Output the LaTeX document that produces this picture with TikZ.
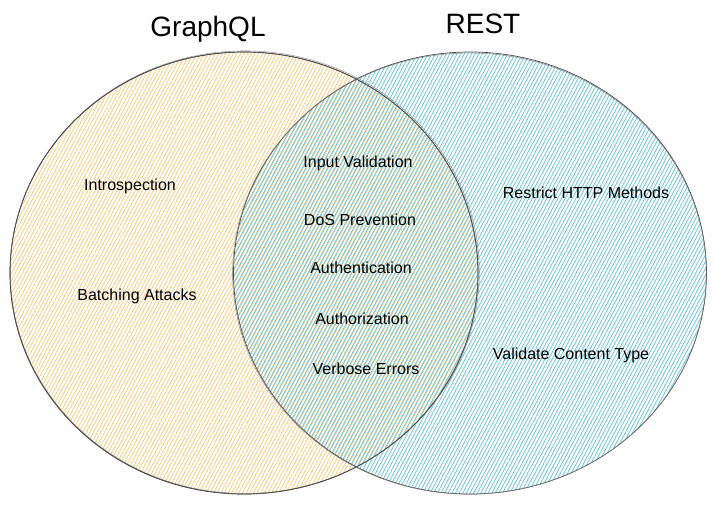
\documentclass[tikz,border=0pt]{standalone}
\usepackage{fontspec}
\setmainfont{Liberation Sans}
\usetikzlibrary{positioning,shapes.geometric,patterns.meta}
\definecolor{gqlyellow}{HTML}{F7C66B}
\definecolor{restcyan}{HTML}{5FC2D8}
\definecolor{rim}{HTML}{4A4A4A}

\begin{document}
\begin{tikzpicture}[
                    x=1pt, y=-1pt,
                    set/.style={ellipse, draw=rim, line width=0.7pt, inner sep=0pt},
                    title/.style={font=\fontsize{28}{32}\selectfont},
                    item/.style={font=\fontsize{16}{18}\selectfont}
                ]
                    \useasboundingbox (0,0) rectangle (714,506);

                    % Sets (hatched fills)
                    \node[set, minimum width=468pt, minimum height=442pt,
                          pattern={Lines[angle=62, distance=3.2pt, line width=0.85pt]},
                          pattern color=gqlyellow!85] (gql) at (244,273) {};
                    \node[set, minimum width=473pt, minimum height=442pt,
                          pattern={Lines[angle=62, distance=3.2pt, line width=0.85pt, yshift=1.4pt]},
                          pattern color=restcyan!90] (rest) at (470,273) {};
                    % sketchy second rims
                    \draw[rim!70, line width=0.4pt] (244.8,272.2) ellipse (234.5pt and 221.3pt);
                    \draw[rim!70, line width=0.4pt] (469.4,273.6) ellipse (236.8pt and 220.6pt);
                    \draw[rim, line width=0.7pt] (244,273) ellipse (234pt and 221pt);

                    % Titles
                    \node[title] (gqltitle) at (208,29) {GraphQL};
                    \node[title] (resttitle) at (483,24) {REST};

                    % GraphQL only
                    \node[item] (intro) at (130,186) {Introspection};
                    \node[item] (batch) at (137,296) {Batching Attacks};

                    % Shared
                    \node[item] (input) at (358,163) {Input Validation};
                    \node[item] (dos) at (360,220) {DoS Prevention};
                    \node[item] (authn) at (361,268) {Authentication};
                    \node[item] (authz) at (362,319) {Authorization};
                    \node[item] (verbose) at (366,369) {Verbose Errors};

                    % REST only
                    \node[item] (methods) at (586,193) {Restrict HTTP Methods};
                    \node[item] (ctype) at (571,355) {Validate Content Type};
                \end{tikzpicture}
\end{document}
